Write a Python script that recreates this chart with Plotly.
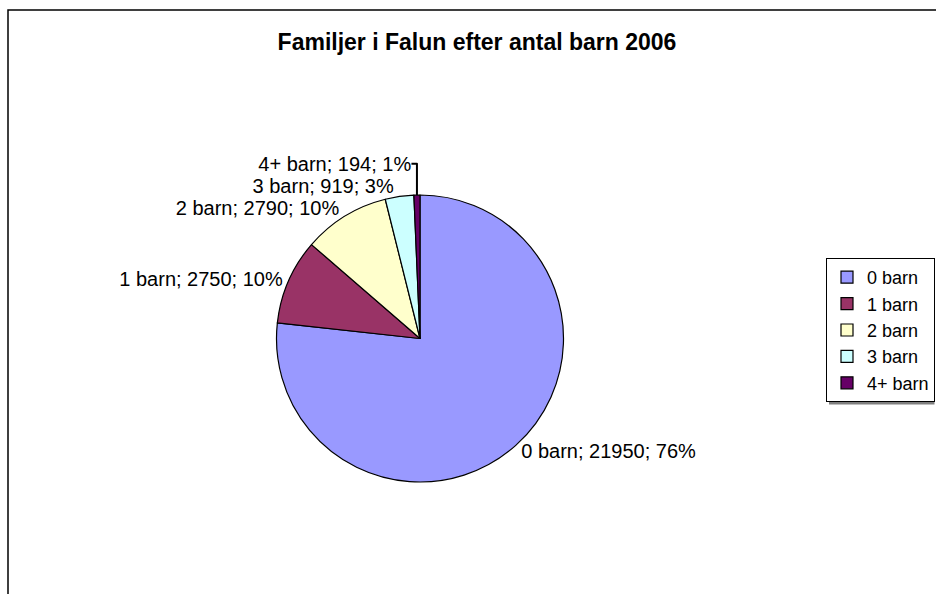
import plotly.graph_objects as go

# Familjer i Falun efter antal barn 2006
categories = ['0 barn', '1 barn', '2 barn', '3 barn', '4+ barn']
families = [21950, 2750, 2790, 919, 194]
pct_labels = ['76%', '10%', '10%', '3%', '1%']
colors = ['#9999FF', '#993366', '#FFFFCC', '#CCFFFF', '#660066']

W, H = 936, 594

fig = go.Figure()
fig.add_trace(go.Pie(
    labels=categories,
    values=families,
    text=pct_labels,
    sort=False,
    direction='clockwise',
    rotation=0,
    marker=dict(colors=colors, line=dict(color='black', width=1.2)),
    texttemplate='%{label}; %{value:d}; %{text}',
    textposition='outside',
    outsidetextfont=dict(family='Liberation Sans, Arial', size=20, color='black'),
    hoverinfo='label+value',
    domain=dict(x=[276.5 / W, 563.5 / W], y=[112 / H, 399 / H]),
))

# outer chart frame and legend shadow
fig.add_shape(type='rect', xref='paper', yref='paper',
              x0=8 / W, x1=1.02, y0=-0.02, y1=1 - 10 / H,
              line=dict(color='black', width=1.5), layer='below')
fig.add_shape(type='rect', xref='paper', yref='paper',
              x0=829 / W, x1=934.5 / W, y0=1 - 404.5 / H, y1=1 - 262 / H,
              line=dict(width=0), fillcolor='#808080', layer='below')

fig.update_layout(
    width=W, height=H,
    margin=dict(l=0, r=0, t=0, b=0),
    paper_bgcolor='white',
    font=dict(family='Liberation Sans, Arial', color='black'),
    title=dict(text='<b>Familjer i Falun efter antal barn 2006</b>',
               x=477 / W, xanchor='center', y=1 - 42 / H, yanchor='middle',
               font=dict(size=23, color='black')),
    legend=dict(x=935 / W, xanchor='right', y=1 - 330 / H, yanchor='middle',
                bgcolor='white', bordercolor='black', borderwidth=1,
                font=dict(size=18), itemwidth=30, tracegroupgap=0),
)

fig.write_html('out.html', config={'displayModeBar': False},
               post_script="document.body.style.margin='0';")
